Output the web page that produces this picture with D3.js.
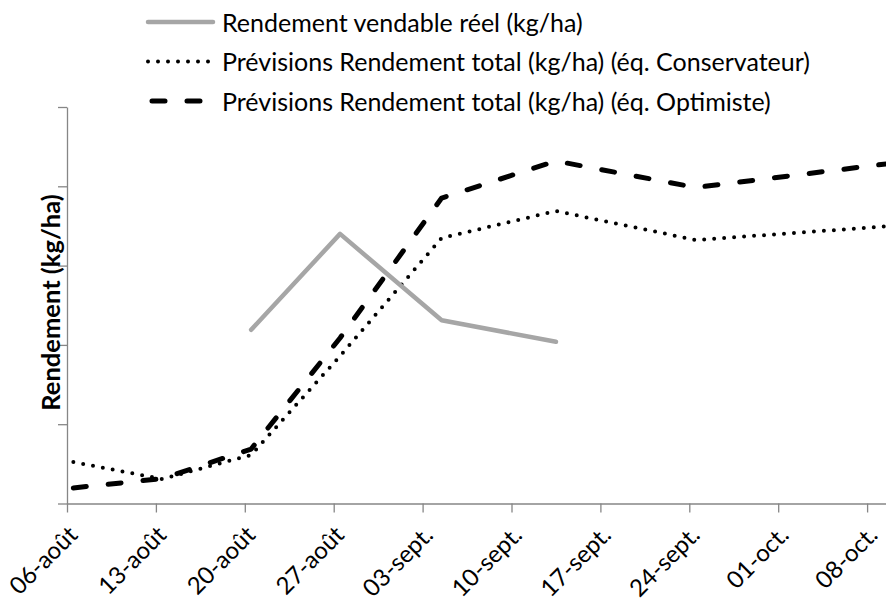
<!DOCTYPE html>
<html>
<head>
<meta charset="utf-8">
<script src="https://cdn.jsdelivr.net/npm/d3@7"></script>
<style>
  body { margin: 0; background: #fff; }
  text { font-family: Lato, "Open Sans", sans-serif; fill: #000; }
</style>
</head>
<body>
<svg id="chart" width="886" height="602"></svg>
<script>
// Weekly sampling dates of the forecasts
const forecastDates = ["2012-08-06", "2012-08-13", "2012-08-20", "2012-08-27", "2012-09-04", "2012-09-13", "2012-09-24", "2012-10-15"];
// Measured marketable yield dates
const actualDates = ["2012-08-20", "2012-08-27", "2012-09-04", "2012-09-13"];

// kg/ha
const actualYield = [21900, 34000, 23100, 20400];
const conservativeForecast = [5230, 3090, 6120, 18600, 33480, 36880, 33230, 35620];
const optimisticForecast = [1960, 3150, 6870, 20870, 38520, 43190, 39850, 44010];

const tickDates = ["2012-08-06", "2012-08-13", "2012-08-20", "2012-08-27", "2012-09-03", "2012-09-10", "2012-09-17", "2012-09-24", "2012-10-01", "2012-10-08"];
const tickLabels = ["06-août", "13-août", "20-août", "27-août", "03-sept.", "10-sept.", "17-sept.", "24-sept.", "01-oct.", "08-oct."];
const yTicks = [0, 10000, 20000, 30000, 40000, 50000];

const seriesNames = [
  "Rendement vendable réel (kg/ha)",
  "Prévisions Rendement total (kg/ha) (éq. Conservateur)",
  "Prévisions Rendement total (kg/ha) (éq. Optimiste)"
];
const yTitle = "Rendement (kg/ha)";

const parse = d3.utcParse("%Y-%m-%d");
const svg = d3.select("#chart");

// Date axis: one slot per day, points sit in the middle of their day
const x = d3.scaleUtc()
  .domain([parse("2012-08-06"), parse("2012-10-10")])
  .range([67, 892.5]);
const mid = d => d3.utcHour.offset(parse(d), 12);

const y = d3.scaleLinear().domain([0, 50000]).range([503.5, 107]);

const axisColor = "#868686";
const fontSize = 25;

// Y axis (no labels)
const gy = svg.append("g").attr("transform", "translate(67,0)")
  .call(d3.axisLeft(y).tickValues(yTicks).tickSize(9).tickSizeOuter(0).tickFormat(""));
gy.selectAll("path, line").attr("stroke", axisColor).attr("stroke-width", 1.3);

// X axis with slanted date labels
const gx = svg.append("g").attr("transform", "translate(0,503.5)")
  .call(d3.axisBottom(x).tickValues(tickDates.map(parse)).tickSize(9).tickSizeOuter(0)
    .tickFormat((d, i) => tickLabels[i]));
gx.selectAll("path, line").attr("stroke", axisColor).attr("stroke-width", 1.3);
gx.selectAll("text")
  .attr("font-size", 24)
  .attr("fill", "#000")
  .attr("text-anchor", "end")
  .attr("y", 0).attr("dy", 0)
  .attr("transform", "translate(11.5,33) rotate(-45)");

// Y title
svg.append("text")
  .attr("transform", "translate(59.5,302.5) rotate(-90)")
  .attr("text-anchor", "middle")
  .attr("font-size", 25.5)
  .attr("font-weight", "bold")
  .text(yTitle);

const lineGen = d3.line().x(d => x(mid(d.date))).y(d => y(d.value));

const styles = [
  { stroke: "#a6a6a6", width: 4.5, dash: null, cap: "round" },
  { stroke: "#000", width: 4, dash: "0 10", cap: "round" },
  { stroke: "#000", width: 5, dash: "13 22", cap: "round" }
];

const series = [
  actualDates.map((d, i) => ({ date: d, value: actualYield[i] })),
  forecastDates.map((d, i) => ({ date: d, value: conservativeForecast[i] })),
  forecastDates.map((d, i) => ({ date: d, value: optimisticForecast[i] }))
];

// Draw forecasts first, actual yield on top
[2, 1, 0].forEach(k => {
  const s = styles[k];
  svg.append("path")
    .datum(series[k])
    .attr("d", lineGen)
    .attr("fill", "none")
    .attr("stroke", s.stroke)
    .attr("stroke-width", s.width)
    .attr("stroke-linecap", s.cap)
    .attr("stroke-linejoin", "round")
    .attr("stroke-dasharray", s.dash);
});

// Legend
const legend = svg.append("g");
seriesNames.forEach((name, i) => {
  const s = styles[i];
  const ly = 22 + i * 39.5;
  legend.append("line")
    .attr("x1", i === 2 ? 152 : 148).attr("x2", 213)
    .attr("y1", ly).attr("y2", ly)
    .attr("stroke", s.stroke)
    .attr("stroke-width", s.width)
    .attr("stroke-linecap", s.cap)
    .attr("stroke-dasharray", s.dash);
  legend.append("text")
    .attr("x", 222).attr("y", ly + 9.5)
    .attr("font-size", fontSize)
    .text(name);
});
</script>
</body>
</html>
